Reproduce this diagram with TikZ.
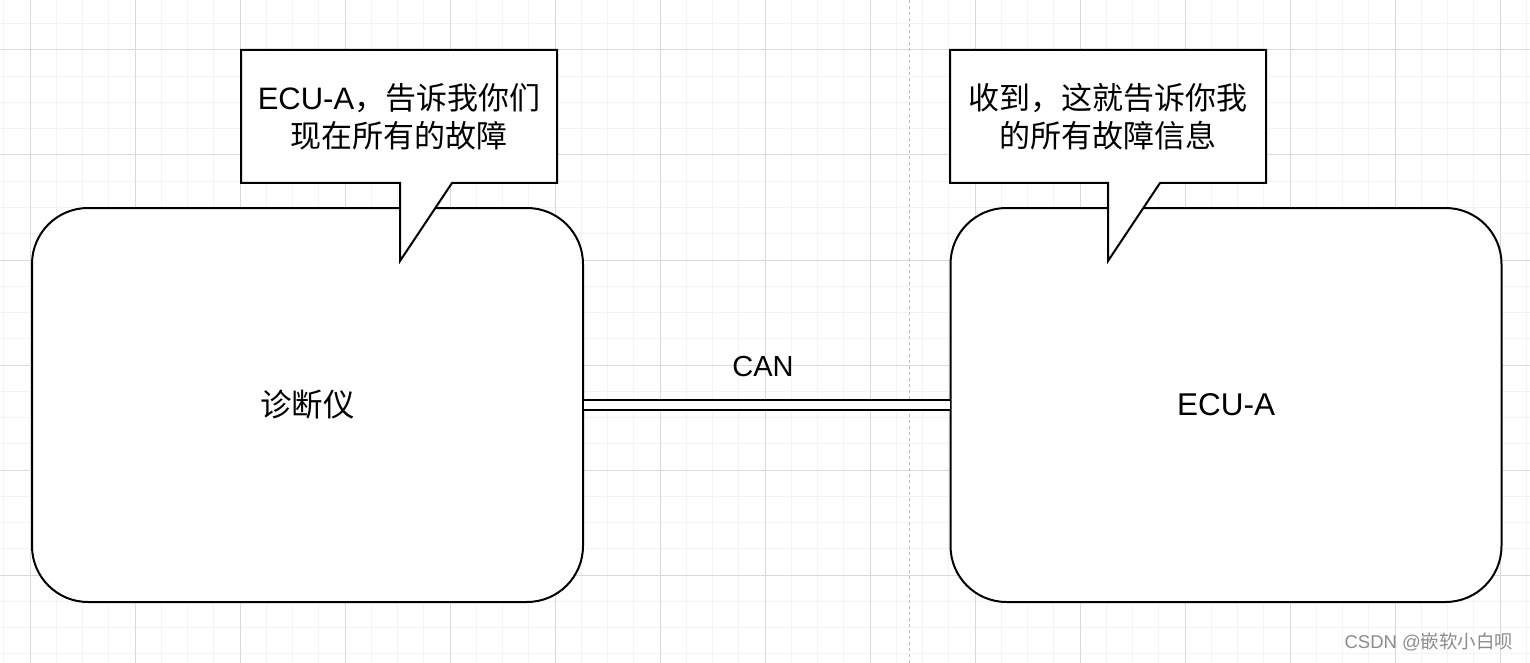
\documentclass[tikz,border=0pt]{standalone}
\usepackage{fontspec}
\setmainfont{Liberation Sans}
\newfontfamily\cjk{Noto Sans CJK SC}
\usepackage{tikz}
\usetikzlibrary{positioning, calc}
\definecolor{gridmajor}{HTML}{D9D9D9}
\definecolor{gridminor}{HTML}{F3F3F3}
\definecolor{divider}{HTML}{BDBDBD}
\definecolor{markgray}{HTML}{8C8C8C}
\tikzset{
  device/.style={
    rectangle, rounded corners=56pt,
    minimum width=551pt, minimum height=394pt, inner sep=0pt,
    text centered, draw=black, line width=2pt,
    fill=white, font=\fontsize{31.5}{38}\selectfont,
  },
  msgtext/.style={
    rectangle,
    minimum width=316pt, minimum height=133pt, inner sep=0pt,
    align=center, font=\fontsize{31}{38}\selectfont,
  },
  bubble/.style={draw=black, line width=2pt, fill=white, line join=miter},
  canbus/.style={line width=2pt, draw=black, double=white, double distance=8pt},
  buslabel/.style={font=\fontsize{29}{34}\selectfont},
  divline/.style={draw=divider, line width=1pt, dash pattern=on 3pt off 3pt},
  gridline/.style={draw=gridminor, line width=1pt},
  gridbold/.style={draw=gridmajor, line width=1pt},
  watermark/.style={font=\fontsize{18.5}{22}\selectfont, text=markgray},
}

\begin{document}
\begin{tikzpicture}[x=1pt, y=-1pt]

  % page and grid
  \fill[white] (0,0) rectangle (1530,663);
  \useasboundingbox (0,0) rectangle (1530,663);
  \foreach \k in {-1,...,57}
    \draw[gridline] ({30+26.25*\k},0) -- ({30+26.25*\k},663);
  \foreach \k in {-1,...,23}
    \draw[gridline] (0,{50+26.25*\k}) -- (1530,{50+26.25*\k});
  \foreach \k in {0,...,14}
    \draw[gridbold] ({30+105*\k},0) -- ({30+105*\k},663);
  \foreach \k in {0,...,5}
    \draw[gridbold] (0,{50+105*\k}) -- (1530,{50+105*\k});

  \coordinate (divtop) at (909,0);
  \coordinate (divbot) at (909,663);
  \draw[divline] (divtop) -- (divbot);

  % devices and bus
  \node[device] (diag) at (307.5,405) {\cjk 诊断仪};
  \node[device] (ecu) at (1226,405) {ECU-A};
  \draw[canbus] (diag.east) -- (ecu.west);
  \node[buslabel] (canlabel) at (763,367) {CAN};

  % speech bubbles
  \coordinate (asktl) at (241,50);
  \coordinate (askbr) at (557,183);
  \coordinate (asktip) at (400,261);
  \draw[bubble] (asktl) -| (askbr) -- ([xshift=52pt]asktip |- askbr)
    -- (asktip) -- (asktip |- askbr) -| cycle;
  \node[msgtext] (askmsg) at ($(asktl)!0.5!(askbr)$)
    {ECU-A{\cjk ，告诉我你们}\\{\cjk 现在所有的故障}};

  \coordinate (replytl) at (950,50);
  \coordinate (replybr) at (1266,183);
  \coordinate (replytip) at (1108,261);
  \draw[bubble] (replytl) -| (replybr) -- ([xshift=52pt]replytip |- replybr)
    -- (replytip) -- (replytip |- replybr) -| cycle;
  \node[msgtext] (replymsg) at ($(replytl)!0.5!(replybr)$)
    {{\cjk 收到，这就告诉你我}\\{\cjk 的所有故障信息}};

  \node[watermark] (mark) at (1429,642) {CSDN @{\cjk 嵌软小白呗}};

\end{tikzpicture}
\end{document}
